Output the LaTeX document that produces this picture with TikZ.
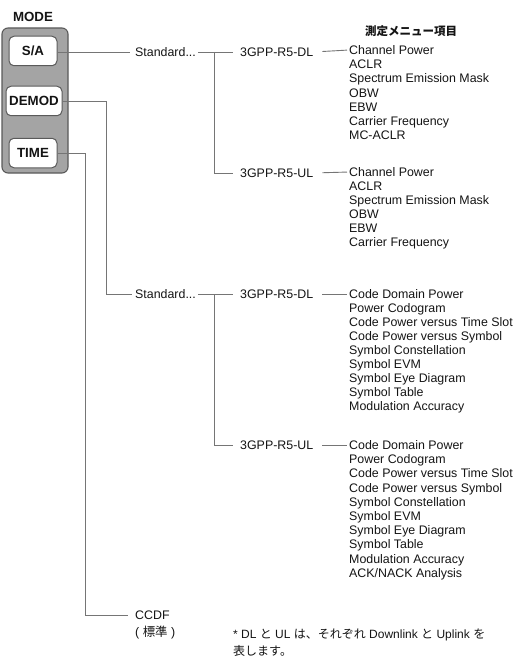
\documentclass[tikz,border=0pt]{standalone}
\usepackage{fontspec}
\setmainfont{Liberation Sans}
\newfontfamily\cjk{Noto Sans CJK JP}
\definecolor{linegray}{HTML}{757575}
\definecolor{panelfill}{HTML}{A4A4A4}
\definecolor{paneledge}{HTML}{5A5A5A}
\definecolor{txt}{HTML}{141414}
\begin{document}
\begin{tikzpicture}[x=1pt,y=-1pt,
  lbl/.style={inner sep=0pt, anchor=west, text height=9pt, text depth=0pt,
    font=\fontsize{12.4}{14.2}\selectfont, text=txt},
  conn/.style={draw=linegray, line width=0.9pt},
  btn/.style={draw=paneledge, fill=white, rounded corners=5pt, line width=1pt,
    minimum height=29.5pt, font=\fontsize{13.3}{15}\selectfont\bfseries, inner sep=0pt, text=txt},
]
\useasboundingbox (0,0) rectangle (518,658);

% MODE panel
\node[font=\fontsize{13.3}{15}\selectfont\bfseries, text=txt, inner sep=0pt] (mode) at (33,17) {MODE};
\node[draw=paneledge, fill=panelfill, rounded corners=6pt, line width=1.1pt,
  minimum width=66pt, minimum height=145pt, inner sep=0pt] (panel) at (35,100.5) {};
\node[btn, minimum width=48pt] (sa) at (33,51) {S/A};
\node[btn, minimum width=56pt] (demod) at (34,101) {DEMOD};
\node[btn, minimum width=48pt] (time) at (33,153) {TIME};

% heading
\node[font=\fontsize{11.5}{13}\selectfont\cjk\bfseries, text=txt, inner sep=0pt] (head) at (411,31) {測定メニュー項目};

% level 2/3 nodes
\node[lbl] (std1) at (135,52) {Standard...};
\node[lbl] (dl1) at (240,52) {3GPP-R5-DL};
\node[lbl] (ul1) at (240,173) {3GPP-R5-UL};
\node[lbl] (std2) at (135,294) {Standard...};
\node[lbl] (dl2) at (240,294) {3GPP-R5-DL};
\node[lbl] (ul2) at (240,445) {3GPP-R5-UL};
\node[lbl] (ccdf) at (135,615) {CCDF};
\node[lbl] (ccdfj) at (135,632) {( {\cjk 標準} )};

% lists
\foreach [count=\i] \t in {Channel Power, ACLR, Spectrum Emission Mask, OBW, EBW, Carrier Frequency, MC-ACLR}
  \node[lbl] (a\i) at (349,{50+(\i-1)*14.2}) {\t};
\foreach [count=\i] \t in {Channel Power, ACLR, Spectrum Emission Mask, OBW, EBW, Carrier Frequency}
  \node[lbl] (b\i) at (349,{172+(\i-1)*14}) {\t};
\foreach [count=\i] \t in {Code Domain Power, Power Codogram, Code Power versus Time Slot, Code Power versus Symbol, Symbol Constellation, Symbol EVM, Symbol Eye Diagram, Symbol Table, Modulation Accuracy}
  \node[lbl] (c\i) at (349,{294+(\i-1)*14}) {\t};
\foreach [count=\i] \t in {Code Domain Power, Power Codogram, Code Power versus Time Slot, Code Power versus Symbol, Symbol Constellation, Symbol EVM, Symbol Eye Diagram, Symbol Table, Modulation Accuracy, ACK/NACK Analysis}
  \node[lbl] (d\i) at (349,{445+(\i-1)*14.2}) {\t};

% note
\node[lbl, font=\fontsize{12}{14}\selectfont] (note1) at (233,634)
  {* DL {\cjk と} UL {\cjk は、それぞれ} Downlink {\cjk と} Uplink {\cjk を}};
\node[lbl, font=\fontsize{12}{14}\selectfont\cjk] (note2) at (233,651) {表します。};

% connectors
\draw[conn, shorten >=5pt] (sa.east |- std1.west) -- (std1.west);
\draw[conn, shorten >=3pt] (demod.east) -| ([xshift=-29pt]std2.west) -- (std2.west);
\draw[conn, shorten >=7pt] (time.east) -| ([xshift=-50pt]ccdf.west) -- (ccdf.west);

\draw[conn, shorten <=2pt, shorten >=7pt] (std1.east) -- (dl1.west);
\draw[conn, shorten >=7pt] ([xshift=18pt]std1.east) |- (ul1.west);
\draw[conn, shorten <=2pt, shorten >=7pt] (std2.east) -- (dl2.west);
\draw[conn, shorten >=7pt] ([xshift=18pt]std2.east) |- (ul2.west);

\draw[conn, shorten <=9pt, shorten >=2pt] (dl1.east) -- (a1.west);
\draw[conn, shorten <=9pt, shorten >=2pt] (ul1.east) -- (b1.west);
\draw[conn, shorten <=9pt, shorten >=2pt] (dl2.east) -- (c1.west);
\draw[conn, shorten <=9pt, shorten >=2pt] (ul2.east) -- (d1.west);
\end{tikzpicture}
\end{document}
